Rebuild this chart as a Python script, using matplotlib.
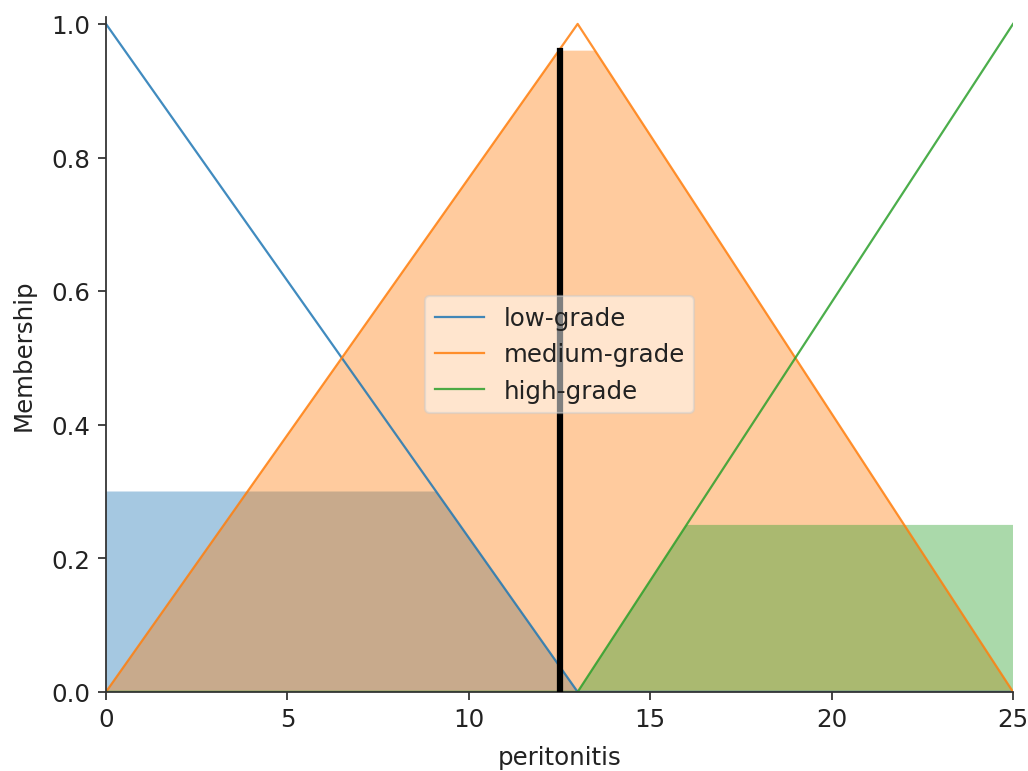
import numpy as np
import matplotlib
matplotlib.use("Agg")
import matplotlib.pyplot as plt

# Membership function breakpoints (triangles) over the universe 0..25
terms = ["low-grade", "medium-grade", "high-grade"]
low_x = [0, 0, 13, 25]
low_y = [1, 1, 0, 0]
medium_x = [0, 13, 25]
medium_y = [0, 1, 0]
high_x = [0, 13, 25, 25]
high_y = [0, 0, 1, 1]
activation = [0.30, 0.96, 0.25]
crisp_value = 12.5
crisp_height = 0.96

plt.rcParams["font.size"] = 11

fig = plt.figure(figsize=(6.4, 4.8), dpi=160.78)
ax = fig.add_axes([0.1030, 0.1025, 0.8815, 0.8742])

universe = np.linspace(0, 25, 2501)
colors = ["tab:blue", "tab:orange", "tab:green"]
shapes = [(low_x, low_y), (medium_x, medium_y), (high_x, high_y)]

for name, (xs, ys), c in zip(terms, shapes, colors):
    ax.plot(xs, ys, color=c, label=name, lw=1.0, alpha=0.85, zorder=2)

for (xs, ys), level, c in zip(shapes, activation, colors):
    mf = np.interp(universe, xs, ys)
    ax.fill_between(universe, 0, np.minimum(mf, level), facecolor=c, alpha=0.4, zorder=1)

ax.plot([crisp_value, crisp_value], [0, crisp_height], color="k", lw=2.8, zorder=3)

ax.set_xlim(0, 25)
ax.set_ylim(0, 1.01)
ax.set_xticks([0, 5, 10, 15, 20, 25])
ax.set_yticks([0.0, 0.2, 0.4, 0.6, 0.8, 1.0])
ax.spines["top"].set_visible(False)
ax.spines["right"].set_visible(False)
for s in ("left", "bottom"):
    ax.spines[s].set_color("#333333")
ax.tick_params(colors="#333333", labelcolor="#222222")
ax.set_xlabel("peritonitis", color="#222222", labelpad=6)
ax.set_ylabel("Membership", color="#222222", labelpad=7)
leg = ax.legend(loc="center", framealpha=0.5)
for t in leg.get_texts():
    t.set_color("#222222")

fig.savefig("out.png", dpi=160.78)
